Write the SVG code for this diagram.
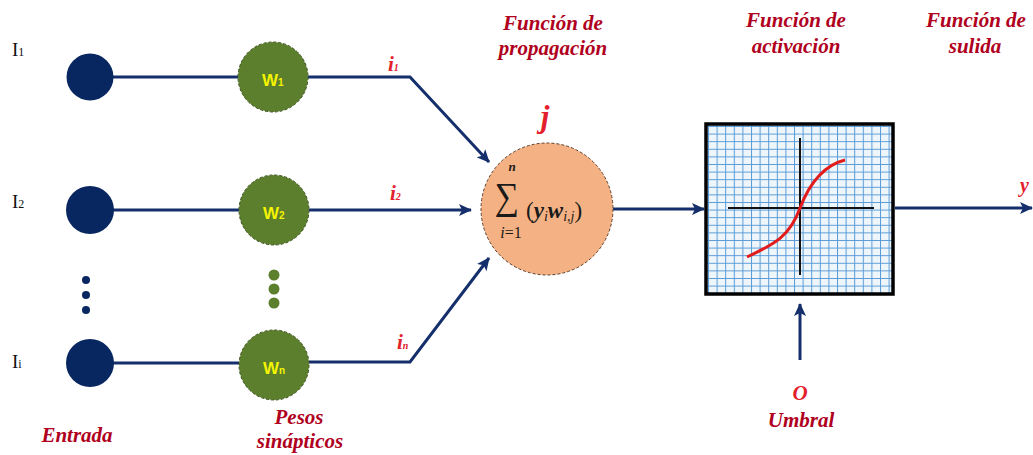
<svg xmlns="http://www.w3.org/2000/svg" width="1033" height="455" viewBox="0 0 1033 455">
<style>
.conn{stroke:#142f6b;stroke-width:3;fill:none}
.inode{fill:#082660}
.wnode{fill:#5b7f2c;stroke:#3a4f1c;stroke-width:1;stroke-dasharray:3 2}
.wl{font-family:"Liberation Sans",Arial,sans-serif;font-weight:bold;fill:#f4f400}
.head{font-family:"Liberation Serif","Times New Roman",serif;font-weight:bold;font-style:italic;fill:#b00020;font-size:21px;text-anchor:middle}
.lab{font-family:"Liberation Serif","Times New Roman",serif;font-weight:bold;font-style:italic;fill:#e3202b}
.il{font-family:"Liberation Serif","Times New Roman",serif;fill:#111;font-size:19px}
.math{font-family:"Liberation Serif","Times New Roman",serif;fill:#1a1a1a}
.dots1{fill:#082660}
.dots2{fill:#5b7f2c}
</style>
<defs>
<marker id="arr" markerUnits="userSpaceOnUse" markerWidth="14" markerHeight="12" refX="12" refY="6" orient="auto">
<path d="M0,0 L13,6 L0,12 L3,6 Z" fill="#142f6b"/>
</marker>
<pattern id="grid" patternUnits="userSpaceOnUse" x="708" y="126" width="8.6" height="7.6">
<rect width="8.6" height="7.6" fill="#eef6fc"/>
<path d="M0.5,0 V7.6 M0,0.5 H8.6" stroke="#5a9bd6" stroke-width="1"/>
</pattern>
</defs>

<g id="connectors">
<line class="conn" x1="113" y1="77" x2="238" y2="77"/>
<polyline class="conn" points="308,77 410,77 489,162" marker-end="url(#arr)"/>
<line class="conn" x1="113" y1="210" x2="239" y2="210"/>
<line class="conn" x1="309" y1="210" x2="471" y2="210" marker-end="url(#arr)"/>
<line class="conn" x1="113" y1="363" x2="239" y2="363"/>
<polyline class="conn" points="309,362 410,362 489,258" marker-end="url(#arr)"/>
<line class="conn" x1="613" y1="209" x2="704" y2="209" marker-end="url(#arr)"/>
<line class="conn" x1="895" y1="208" x2="1032" y2="208" marker-end="url(#arr)"/>
<line class="conn" x1="800" y1="360" x2="800" y2="304" marker-end="url(#arr)"/>
</g>

<g id="input1"><circle class="inode" cx="90" cy="77" r="23.5"/><text class="il" x="12" y="56">I<tspan font-size="12">1</tspan></text></g>
<g id="input2"><circle class="inode" cx="90" cy="210" r="24"/><text class="il" x="12" y="208">I<tspan font-size="12">2</tspan></text></g>
<g id="inputi"><circle class="inode" cx="90" cy="363" r="24"/><text class="il" x="12" y="368">I<tspan font-size="12">i</tspan></text></g>
<g id="input-dots" class="dots1"><circle cx="86" cy="280" r="4"/><circle cx="86" cy="295" r="4"/><circle cx="86" cy="310" r="4"/></g>

<g id="w1"><circle class="wnode" cx="273" cy="77" r="35"/><text class="wl" x="262" y="86" font-size="17">W<tspan font-size="10">1</tspan></text></g>
<g id="w2"><circle class="wnode" cx="274" cy="210" r="35"/><text class="wl" x="263" y="219" font-size="17">W<tspan font-size="10">2</tspan></text></g>
<g id="wn"><circle class="wnode" cx="274" cy="365" r="35"/><text class="wl" x="263" y="374" font-size="17">W<tspan font-size="10">n</tspan></text></g>
<g id="w-dots" class="dots2"><circle cx="274" cy="275" r="5.5"/><circle cx="274" cy="289" r="5.5"/><circle cx="274" cy="303" r="5.5"/></g>

<g id="i-labels" class="lab">
<text x="388" y="71" font-size="21">i<tspan font-size="10">1</tspan></text>
<text x="390" y="200" font-size="21">i<tspan font-size="10">2</tspan></text>
<text x="397" y="349" font-size="21">i<tspan font-size="10">n</tspan></text>
</g>

<g id="sum">
<circle cx="547" cy="209" r="66" fill="#f4b183" stroke="#5a4030" stroke-width="1" stroke-dasharray="3 2"/>
<text class="lab" x="545" y="127" font-size="31" text-anchor="middle">j</text>
<text class="math" x="512" y="171" font-size="13" font-style="italic" font-weight="bold" text-anchor="middle">n</text>
<text class="math" x="507" y="209" font-size="38" font-family="DejaVu Serif,serif" text-anchor="middle" transform="translate(507 209) scale(0.9 1) translate(-507 -209)">∑</text>
<text class="math" x="511" y="238" font-size="16" text-anchor="middle"><tspan font-style="italic">i</tspan>=1</text>
<text class="math" x="526" y="218" font-size="23">(<tspan font-style="italic" font-weight="bold">y</tspan><tspan font-style="italic" font-size="14" dy="3">i</tspan><tspan font-style="italic" font-weight="bold" dy="-3">w</tspan><tspan font-style="italic" font-size="14" dy="3">i,j</tspan><tspan dy="-3">)</tspan></text>
</g>

<g id="activation">
<rect x="706" y="124" width="187" height="170" fill="url(#grid)" stroke="#000" stroke-width="3.5"/>
<line x1="728" y1="208" x2="874" y2="208" stroke="#111" stroke-width="2"/>
<line x1="800" y1="138" x2="800" y2="275" stroke="#111" stroke-width="2"/>
<path d="M747,257 C775,244 790,236 800,208 C810,182 825,165 845,160" fill="none" stroke="#e21c1c" stroke-width="3"/>
</g>

<g id="labels">
<text class="head" x="553" y="30">Función de</text>
<text class="head" x="553" y="55">propagación</text>
<text class="head" x="796" y="27">Función de</text>
<text class="head" x="796" y="53">activación</text>
<text class="head" x="976" y="27">Función de</text>
<text class="head" x="975" y="53">sulida</text>
<text class="head" x="77" y="442">Entrada</text>
<text class="head" x="299" y="424">Pesos</text>
<text class="head" x="300" y="448">sinápticos</text>
<text class="head" x="800" y="400" style="fill:#e3202b">O</text>
<text class="head" x="801" y="427">Umbral</text>
<text class="lab" x="1020" y="192" font-size="20">y</text>
</g>
</svg>
